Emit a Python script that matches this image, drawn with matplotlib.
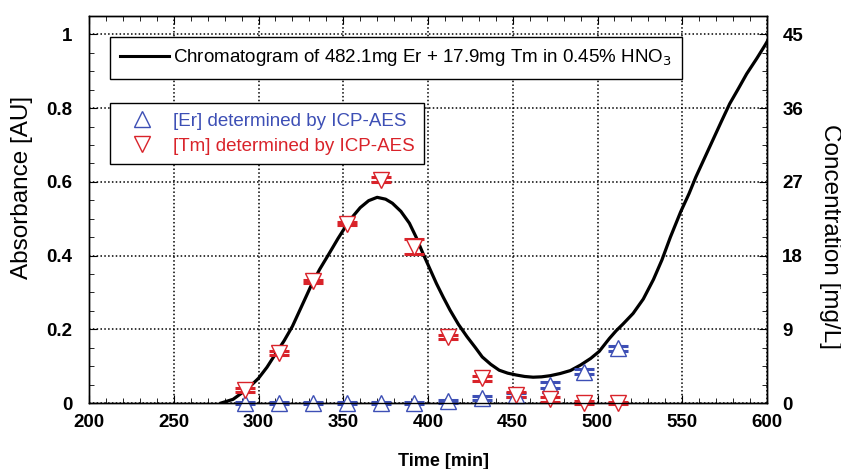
import matplotlib
matplotlib.use("Agg")
import matplotlib.pyplot as plt
import numpy as np
from matplotlib.lines import Line2D
from matplotlib.ticker import MultipleLocator

plt.rcParams["font.family"] = ["Liberation Sans", "DejaVu Sans"]

# Chromatogram (absorbance vs time)
time = [278, 285, 291, 295, 300, 305, 310, 315, 320, 325, 331, 336, 342, 347,
        351, 356, 360, 365, 370, 375, 379, 384, 389, 393, 397, 401, 405, 409,
        413, 418, 423, 428, 432, 437, 442, 447, 452, 457, 462, 467, 472, 478,
        484, 490, 496, 501, 507, 511, 515, 521, 527, 533, 538, 543, 549, 554,
        558, 563, 568, 573, 578, 583, 588, 594, 599, 600]
absorb = [0.0, 0.01, 0.03, 0.045, 0.067, 0.097, 0.133, 0.168, 0.208, 0.258,
          0.318, 0.362, 0.408, 0.447, 0.476, 0.508, 0.530, 0.549, 0.558, 0.553,
          0.542, 0.52, 0.488, 0.45, 0.406, 0.365, 0.324, 0.287, 0.252, 0.213,
          0.18, 0.15, 0.125, 0.105, 0.089, 0.081, 0.076, 0.072, 0.070, 0.071,
          0.074, 0.08, 0.088, 0.103, 0.121, 0.140, 0.175, 0.196, 0.214, 0.243,
          0.282, 0.335, 0.388, 0.45, 0.518, 0.568, 0.613, 0.663, 0.713, 0.763,
          0.812, 0.852, 0.893, 0.935, 0.972, 0.98]

# ICP-AES fractions (in absorbance-equivalent units, 1 AU = 45 mg/L)
t_icp = [292, 312, 332, 352, 372, 392, 412, 432, 452, 472, 492, 512]
tm_val = [0.035, 0.135, 0.33, 0.487, 0.606, 0.424, 0.18, 0.067, 0.023, 0.01,
          0.001, 0.0]
tm_err = [0.006, 0.005, 0.005, 0.005, 0.007, 0.02, 0.005, 0.006, 0.006, 0.006,
          0.005, 0.004]
er_val = [0.0, 0.0, 0.0, 0.0, 0.0, 0.0, 0.005, 0.013, 0.022, 0.049, 0.085,
          0.148]
er_err = [0.003, 0.003, 0.003, 0.003, 0.003, 0.003, 0.004, 0.005, 0.005,
          0.007, 0.006, 0.007]

BLUE = "#3d4fb5"
RED = "#d9232a"

fig = plt.figure(figsize=(8.41, 4.69), dpi=100)
ax = fig.add_axes([89 / 841, 1 - 403 / 469, (767 - 89) / 841, (403 - 16) / 469])

ax.plot(time, absorb, color="black", lw=2.3, zorder=4)

for vals, errs, mk, col in [(er_val, er_err, "^", BLUE), (tm_val, tm_err, "v", RED)]:
    ax.errorbar(t_icp, vals, yerr=errs, fmt="none", ecolor=col, elinewidth=1,
                capsize=7, capthick=2.2, zorder=5, clip_on=False)
    ax.plot(t_icp, vals, ls="none", marker=mk, ms=11, mfc="white",
            mec=col, mew=1.0, zorder=6, clip_on=False)

ax.set_xlim(200, 600)
ax.set_ylim(0, 1.05)
ax.xaxis.set_major_locator(MultipleLocator(50))
ax.xaxis.set_minor_locator(MultipleLocator(10))
ax.yaxis.set_minor_locator(MultipleLocator(0.05))
ax.set_yticks([0, 0.2, 0.4, 0.6, 0.8, 1])
ax.set_yticklabels(["0", "0.2", "0.4", "0.6", "0.8", "1"])
ax.grid(True, which="major", color="black", ls=(0, (1, 1.5)), lw=1.1)
ax.tick_params(which="both", direction="in", top=True, right=False)
ax.tick_params(which="major", length=6, labelsize=13.5)
ax.tick_params(axis="y", which="major", pad=12)
ax.tick_params(axis="x", which="major", pad=8)
ax.tick_params(which="minor", length=3.5)
for lab in ax.get_xticklabels() + ax.get_yticklabels():
    lab.set_fontweight("bold")

ax2 = ax.twinx()
ax2.set_ylim(0, 1.05 * 45)
ax2.yaxis.set_major_locator(MultipleLocator(9))
ax2.yaxis.set_minor_locator(MultipleLocator(2.25))
ax2.tick_params(which="both", direction="in")
ax2.tick_params(which="major", length=6, labelsize=13.5, pad=11)
ax2.tick_params(which="minor", length=3.5)
for lab in ax2.get_yticklabels():
    lab.set_fontweight("bold")

for a in (ax, ax2):
    for sp in a.spines.values():
        sp.set_linewidth(1.0)

fig.text(444 / 841, 1 - 461 / 469, "Time [min]", ha="center", va="center",
         fontsize=13, fontweight="bold")
fig.text(22 / 841, 1 - 187 / 469, "Absorbance [AU]", ha="center", va="center",
         rotation=90, fontsize=17.5)
fig.text(830 / 841, 1 - 237 / 469, "Concentration [mg/L]", ha="center",
         va="center", rotation=270, fontsize=17.5)

h1 = [Line2D([], [], color="black", lw=2.2)]
leg1 = ax2.legend(h1, ["Chromatogram of 482.1mg Er + 17.9mg Tm in 0.45% HNO$_3$"],
                  loc="upper left", bbox_to_anchor=(110 / 841, 1 - 37 / 469),
                  bbox_transform=fig.transFigure, borderaxespad=0, fancybox=False,
                  edgecolor="black", framealpha=1, fontsize=13.5, handlelength=2.6,
                  handletextpad=0.2, borderpad=0.55)
leg1.get_frame().set_linewidth(1.0)
ax2.add_artist(leg1)

h2 = [Line2D([], [], ls="none", marker="^", ms=11, mfc="white", mec=BLUE, mew=1.0),
      Line2D([], [], ls="none", marker="v", ms=11, mfc="white", mec=RED, mew=1.0)]
leg2 = ax2.legend(h2, ["[Er] determined by ICP-AES", "[Tm] determined by ICP-AES"],
                  loc="upper left", bbox_to_anchor=(110 / 841, 1 - 103 / 469),
                  bbox_transform=fig.transFigure, borderaxespad=0, fancybox=False,
                  edgecolor="black", framealpha=1, fontsize=13.5, handlelength=2.4,
                  handletextpad=0.45, borderpad=0.5, labelspacing=0.45)
leg2.get_frame().set_linewidth(1.0)
for txt, col in zip(leg2.get_texts(), [BLUE, RED]):
    txt.set_color(col)

fig.savefig("out.png", dpi=100)
